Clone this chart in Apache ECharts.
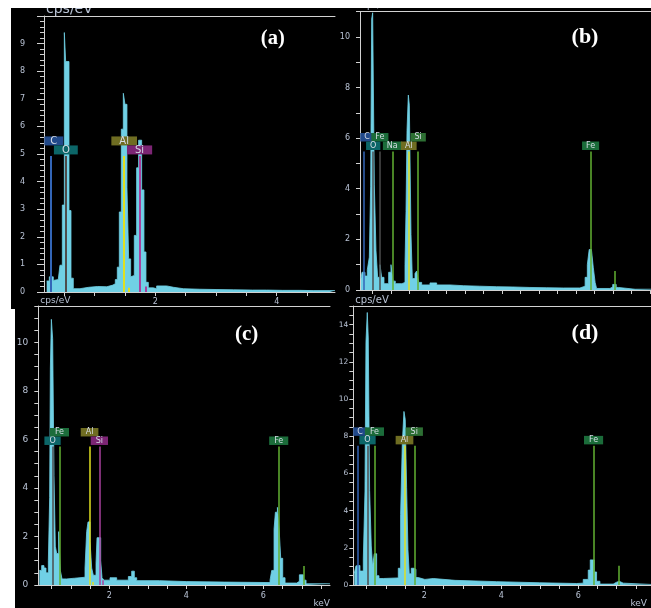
<!DOCTYPE html>
<html>
<head>
<meta charset="utf-8">
<script src="https://cdn.jsdelivr.net/npm/echarts@6/dist/echarts.min.js"></script>
<style>
  html, body { margin: 0; padding: 0; background: #fff; }
  #chart { width: 651px; height: 608px; }
</style>
</head>
<body>
<div id="chart"></div>
<script>
// EDS spectra of four samples (a)-(d): counts per eV against energy in keV.
// Each spectrum is a histogram: energy = left edge of a channel group, counts = height.

// ---- sample (a)
const energyA = [0.209, 0.253, 0.318, 0.346, 0.400, 0.428, 0.467, 0.500, 0.522, 0.577, 0.610, 0.648, 0.758, 0.90, 1.05, 1.20, 1.30, 1.340, 1.373, 1.406, 1.439, 1.472, 1.499, 1.532, 1.560, 1.593, 1.625, 1.653, 1.691, 1.724, 1.774, 1.812, 1.845, 1.884, 1.966, 2.021, 2.186, 2.30, 2.46, 2.735, 3.0, 3.284, 3.6, 3.833, 4.1, 4.382, 4.6, 4.876, 4.96];
const countsA = [0.4, 0.55, 0.42, 0.45, 0.5, 0.97, 3.15, 9.4, 8.35, 2.95, 0.5, 0.12, 0.17, 0.2, 0.19, 0.25, 0.3, 0.45, 0.9, 2.9, 5.9, 7.2, 6.8, 3.8, 1.2, 0.55, 0.6, 2.05, 4.5, 5.5, 3.7, 1.45, 0.35, 0.15, 0.12, 0.22, 0.17, 0.12, 0.1, 0.09, 0.08, 0.07, 0.07, 0.06, 0.06, 0.05, 0.05, 0.05, 0.05];

// ---- sample (b)
const energyB = [0.195, 0.222, 0.303, 0.366, 0.420, 0.456, 0.483, 0.510, 0.555, 0.600, 0.645, 0.708, 0.753, 0.816, 0.942, 1.005, 1.059, 1.122, 1.30, 1.384, 1.411, 1.438, 1.474, 1.501, 1.546, 1.582, 1.654, 1.699, 1.753, 1.834, 2.059, 2.239, 2.6, 2.96, 3.4, 3.86, 4.3, 4.76, 5.2, 5.66, 6.11, 6.25, 6.31, 6.36, 6.42, 6.47, 6.52, 6.56, 6.92, 6.996, 7.09, 7.15, 7.6, 8.03];
const countsB = [0.45, 0.7, 0.55, 0.8, 1.3, 4.1, 10.7, 10.95, 4.15, 1.55, 0.5, 1.0, 0.5, 0.25, 0.7, 1.0, 0.35, 0.25, 0.3, 1.0, 3.1, 6.3, 7.7, 7.3, 2.2, 0.45, 0.65, 0.75, 0.3, 0.2, 0.28, 0.2, 0.17, 0.15, 0.13, 0.12, 0.1, 0.09, 0.08, 0.08, 0.15, 0.5, 1.0, 1.6, 1.55, 0.9, 0.3, 0.06, 0.12, 0.22, 0.1, 0.03, 0.03, 0.03];

// ---- sample (c)
const energyC = [0.182, 0.242, 0.303, 0.355, 0.416, 0.450, 0.468, 0.494, 0.528, 0.563, 0.597, 0.632, 0.684, 0.727, 0.771, 0.892, 1.10, 1.368, 1.411, 1.446, 1.498, 1.541, 1.584, 1.654, 1.680, 1.723, 1.775, 1.810, 1.861, 2.017, 2.19, 2.494, 2.580, 2.649, 2.71, 3.3, 4.01, 5.0, 6.173, 6.216, 6.277, 6.312, 6.364, 6.407, 6.45, 6.502, 6.563, 6.866, 6.935, 7.039, 7.108, 7.73];
const countsC = [0.6, 0.8, 0.7, 0.5, 1.0, 3.6, 8.9, 10.95, 10.15, 4.5, 1.6, 1.3, 2.2, 0.6, 0.25, 0.28, 0.32, 0.7, 2.2, 2.6, 1.8, 0.7, 0.4, 0.9, 1.95, 1.95, 1.0, 0.3, 0.2, 0.3, 0.2, 0.35, 0.57, 0.3, 0.18, 0.14, 0.12, 0.1, 0.2, 0.6, 2.3, 3.0, 3.2, 2.35, 1.1, 0.3, 0.08, 0.15, 0.42, 0.2, 0.05, 0.05];

// ---- sample (d)
const energyD = [0.182, 0.225, 0.277, 0.329, 0.416, 0.459, 0.485, 0.519, 0.545, 0.580, 0.623, 0.658, 0.701, 0.762, 0.823, 0.935, 1.325, 1.385, 1.429, 1.472, 1.506, 1.541, 1.576, 1.610, 1.662, 1.732, 1.784, 1.844, 2.017, 2.234, 2.8, 3.879, 5.0, 5.957, 6.13, 6.26, 6.312, 6.364, 6.416, 6.476, 6.563, 6.909, 6.996, 7.065, 7.169, 7.89];
const countsD = [0.63, 1.03, 1.05, 0.75, 1.4, 5.0, 13.06, 14.65, 13.28, 5.08, 2.1, 1.0, 1.68, 0.5, 0.35, 0.38, 0.9, 3.78, 7.6, 9.33, 8.9, 5.26, 1.9, 0.6, 0.9, 0.85, 0.4, 0.3, 0.35, 0.25, 0.18, 0.12, 0.08, 0.1, 0.3, 0.8, 1.35, 1.35, 0.7, 0.2, 0.05, 0.15, 0.2, 0.1, 0.03, 0.03];

// ---- element markers: [symbol, line energy keV, marker height cps/eV]
const peaksA = [['C', 0.277, 4.93], ['O', 0.525, 4.93], ['Al', 1.486, 4.93], ['Si', 1.740, 4.93], ['Al', 1.557, 0.15], ['Si', 1.836, 0.2]];
const peaksB = [['C', 0.277, 5.47], ['Fe', 0.705, 5.47], ['O', 0.525, 5.47], ['Na', 1.041, 5.47], ['Al', 1.486, 5.47], ['Si', 1.740, 5.47], ['Fe', 6.398, 5.47], ['Fe', 7.058, 0.75]];
const peaksC = [['O', 0.525, 5.71], ['Fe', 0.705, 5.71], ['Al', 1.486, 5.71], ['Si', 1.740, 5.71], ['Fe', 6.398, 5.71], ['Fe', 7.058, 0.78], ['Al', 1.557, 0.12], ['Si', 1.836, 0.2]];
const peaksD = [['C', 0.277, 7.48], ['Fe', 0.705, 7.48], ['O', 0.525, 7.48], ['Al', 1.486, 7.48], ['Si', 1.740, 7.48], ['Fe', 6.398, 7.48], ['Fe', 7.058, 1.03]];

// ---- axis tick labels
const yLabelsA = [0, 1, 2, 3, 4, 5, 6, 7, 8, 9];
const yLabelsB = [0, 2, 4, 6, 8, 10];
const yLabelsC = [0, 2, 4, 6, 8, 10];
const yLabelsD = [0, 2, 4, 6, 8, 10, 12, 14];
const xLabelsA = [2, 4];
const xLabelsB = [];
const xLabelsC = [2, 4, 6];
const xLabelsD = [2, 4, 6];
const panelTags = ['(a)', '(b)', '(c)', '(d)'];

// ---------------------------------------------------------------- styling
const CYAN = '#70d0e5';
const AXIS = '#d2d2d2';
const TXT = '#b9c3d5';
const BOXTXT = '#d6dce6';

const C_LINE = '#3366b8', C_BOX = '#21498a';
const O_LINE = '#4d4d4d', O_BOX = '#0c6668';
const FE_LINE = '#62b032', FE_BOX = '#1b6c3a';
const AL_LINE = '#e0e020', AL_BOX = '#6f6d22';
const SIP_LINE = '#a8409e', SIP_BOX = '#7c2574';
const SIG_LINE = '#62b032', SIG_BOX = '#2d6f33';

// per marker: label row (1 upper, 0 lower, -1 none), line colour, box colour, extra label props
const markStyleA = [
  { row: 1, line: C_LINE, box: C_BOX, extra: { width: 14, padding: [0, 2.5], offset: [3, 0] } },
  { row: 0, line: O_LINE, box: O_BOX },
  { row: 1, line: AL_LINE, box: AL_BOX },
  { row: 0, line: SIP_LINE, box: SIP_BOX },
  { row: -1, line: AL_LINE },
  { row: -1, line: SIP_LINE }
];
const markStyleB = [
  { row: 1, line: C_LINE, box: C_BOX, extra: { offset: [3, 0] } },
  { row: 1, line: O_LINE, box: FE_BOX },
  { row: 0, line: O_LINE, box: O_BOX },
  { row: 0, line: FE_LINE, box: FE_BOX },
  { row: 0, line: AL_LINE, box: AL_BOX },
  { row: 1, line: SIG_LINE, box: SIG_BOX },
  { row: 0, line: FE_LINE, box: FE_BOX },
  { row: -1, line: FE_LINE }
];
const markStyleC = [
  { row: 0, line: O_LINE, box: O_BOX },
  { row: 1, line: FE_LINE, box: FE_BOX },
  { row: 1, line: AL_LINE, box: AL_BOX },
  { row: 0, line: SIP_LINE, box: SIP_BOX },
  { row: 0, line: FE_LINE, box: FE_BOX },
  { row: -1, line: FE_LINE },
  { row: -1, line: AL_LINE },
  { row: -1, line: SIP_LINE }
];
const markStyleD = [
  { row: 1, line: C_LINE, box: C_BOX, extra: { padding: [0, 4], offset: [2, 0] } },
  { row: 1, line: FE_LINE, box: FE_BOX },
  { row: 0, line: O_LINE, box: O_BOX },
  { row: 0, line: AL_LINE, box: AL_BOX },
  { row: 1, line: SIG_LINE, box: SIG_BOX },
  { row: 0, line: FE_LINE, box: FE_BOX },
  { row: -1, line: FE_LINE }
];

// step helper for plain tick marks
const steps = (a, b, s) => Array.from({ length: Math.round((b - a) / s) + 1 }, (_, i) => +(a + i * s).toFixed(4));

const panels = [
  { energy: energyA, counts: countsA, peaks: peaksA, marks: markStyleA,
    grid: { left: 44, top: 16, width: 291, height: 276 },
    x: [0.165, 4.96], xTicks: steps(0.5, 4.5, 0.5), xLabels: xLabelsA, xLabelMargin: 6,
    y: [0, 10], yLabels: yLabelsA, yLabelSize: 8, yLabelMargin: 19,
    box: { fs: 10, lh: 9, pad: 8 }, lineW: 2,
    unit: { size: 14, gap: 0, dx: 2 }, keV: null },
  { energy: energyB, counts: countsB, peaks: peaksB, marks: markStyleB,
    grid: { left: 360, top: 11.5, width: 291, height: 278.5 },
    x: [0.168, 8.03], xTicks: steps(0.5, 8, 0.5), xLabels: xLabelsB, xLabelMargin: 6,
    y: [0, 11], yTicks: steps(0, 11, 1), yLabels: yLabelsB, yLabelSize: 8, yLabelMargin: 10,
    box: { fs: 8, lh: 8.5, pad: 4 }, lineW: 1.5,
    unit: { size: 9, gap: 1, dx: 2 }, keV: null },
  { energy: energyC, counts: countsC, peaks: peaksC, marks: markStyleC,
    grid: { left: 38.3, top: 306, width: 291.7, height: 279.7 },
    x: [0.155, 7.73], xTicks: steps(0.5, 7.5, 0.5), xLabels: xLabelsC, xLabelMargin: 7,
    y: [0, 11.5], yTicks: steps(0, 11.5, 0.5), yLabels: yLabelsC, yLabelSize: 9, yLabelMargin: 10,
    box: { fs: 8, lh: 8.5, pad: 5 }, lineW: 1.5,
    unit: { size: 9, gap: 0.5, dx: 2 }, keV: { pr: 0 } },
  { energy: energyD, counts: countsD, peaks: peaksD, marks: markStyleD,
    grid: { left: 353.3, top: 306, width: 297.7, height: 279 },
    x: [0.156, 7.89], xTicks: steps(0.5, 7.5, 0.5), xLabels: xLabelsD, xLabelMargin: 7,
    y: [0, 15], yTicks: steps(0, 15, 0.5), yLabels: yLabelsD, yLabelSize: 7.5, yLabelMargin: 5,
    box: { fs: 8, lh: 8.5, pad: 5 }, lineW: 1.5,
    unit: { size: 10, gap: 1, dx: 2 }, keV: { pr: 4 } }
];

function markerData(p) {
  return p.peaks.map(([el, e, h], i) => {
    const st = p.marks[i];
    const label = st.row < 0 ? { show: false } : Object.assign({
      show: true, position: 'end', formatter: el,
      color: BOXTXT, backgroundColor: st.box,
      fontFamily: 'DejaVu Sans', fontSize: p.box.fs, lineHeight: p.box.lh,
      padding: [0, p.box.pad],
      distance: st.row === 1 ? p.box.lh + 1.5 : 1.5
    }, st.extra || {});
    return [
      { coord: [e, 0], lineStyle: { color: st.line, width: p.lineW, type: 'solid' }, label },
      { coord: [e, h] }
    ];
  });
}

const option = {
  backgroundColor: '#000',
  animation: false,
  grid: panels.map(p => Object.assign({ containLabel: false }, p.grid)),
  xAxis: [],
  yAxis: [],
  series: [],
  graphic: []
};

panels.forEach((p, i) => {
  option.xAxis.push({
    type: 'value', gridIndex: i, position: 'bottom', min: p.x[0], max: p.x[1],
    axisLine: { show: true, onZero: false, lineStyle: { color: AXIS, width: 1 } },
    axisTick: { show: true, customValues: p.xTicks, length: 4, lineStyle: { color: AXIS } },
    axisLabel: { show: true, customValues: p.xLabels, margin: p.xLabelMargin, color: TXT,
                 fontFamily: 'DejaVu Sans', fontSize: 8 },
    splitLine: { show: false },
    name: p.keV ? 'keV' : '', nameLocation: 'end', nameGap: 0,
    nameTextStyle: { color: TXT, fontFamily: 'DejaVu Sans', fontSize: 9, align: 'right',
                     verticalAlign: 'top', padding: [14, p.keV ? p.keV.pr : 0, 0, 0] }
  });
  option.xAxis.push({
    type: 'value', gridIndex: i, position: 'top', min: p.x[0], max: p.x[1],
    axisLine: { show: true, onZero: false, lineStyle: { color: AXIS, width: 1 } },
    axisTick: { show: false }, axisLabel: { show: false }, splitLine: { show: false }
  });
  const yAxis = {
    type: 'value', gridIndex: i, min: p.y[0], max: p.y[1],
    axisLine: { show: true, onZero: false, lineStyle: { color: AXIS, width: 1 } },
    axisLabel: { show: true, customValues: p.yLabels, margin: p.yLabelMargin, color: TXT,
                 fontFamily: 'DejaVu Sans', fontSize: p.yLabelSize },
    splitLine: { show: false },
    name: 'cps/eV', nameLocation: 'end', nameGap: p.unit.gap,
    nameTextStyle: { color: TXT, fontFamily: 'DejaVu Sans', fontSize: p.unit.size,
                     align: 'left', verticalAlign: 'bottom', padding: [0, 0, 0, p.unit.dx] }
  };
  if (p.yTicks) {
    yAxis.axisTick = { show: true, customValues: p.yTicks, length: 4, lineStyle: { color: AXIS } };
  } else {
    yAxis.interval = 1;
    yAxis.axisTick = { show: true, length: 7, lineStyle: { color: AXIS } };
    yAxis.minorTick = { show: true, splitNumber: 5, length: 4, lineStyle: { color: AXIS } };
  }
  option.yAxis.push(yAxis);

  option.series.push({
    type: 'line', xAxisIndex: 2 * i, yAxisIndex: i,
    data: p.energy.map((e, k) => [e, p.counts[k]]),
    step: 'end', symbol: 'none', silent: true, clip: true,
    lineStyle: { color: CYAN, width: 0.8 },
    itemStyle: { color: CYAN },
    areaStyle: { color: CYAN, opacity: 1 },
    markLine: {
      silent: true, symbol: ['none', 'none'], animation: false,
      emphasis: { disabled: true },
      data: markerData(p)
    }
  });
});

// panel tags
const tagPos = [[272.8, 38.5, 20.5], [585, 37, 22], [246.7, 335, 21], [585, 333.5, 22]];
panelTags.forEach((t, i) => {
  option.graphic.push({
    type: 'text', x: tagPos[i][0], y: tagPos[i][1], z: 50,
    style: { text: t, fill: '#ffffff', font: 'bold ' + tagPos[i][2] + 'px "Liberation Serif"',
             textAlign: 'center', textVerticalAlign: 'middle' }
  });
});

// white page margins around the mounted panels
option.graphic.push(
  { type: 'rect', z: 100, shape: { x: 0, y: 0, width: 651, height: 8 }, style: { fill: '#fff' } },
  { type: 'rect', z: 100, shape: { x: 0, y: 0, width: 11, height: 309 }, style: { fill: '#fff' } },
  { type: 'rect', z: 100, shape: { x: 0, y: 309, width: 15, height: 299 }, style: { fill: '#fff' } }
);

const chart = echarts.init(document.getElementById('chart'), null, { renderer: 'canvas' });
chart.setOption(option);
</script>
</body>
</html>
